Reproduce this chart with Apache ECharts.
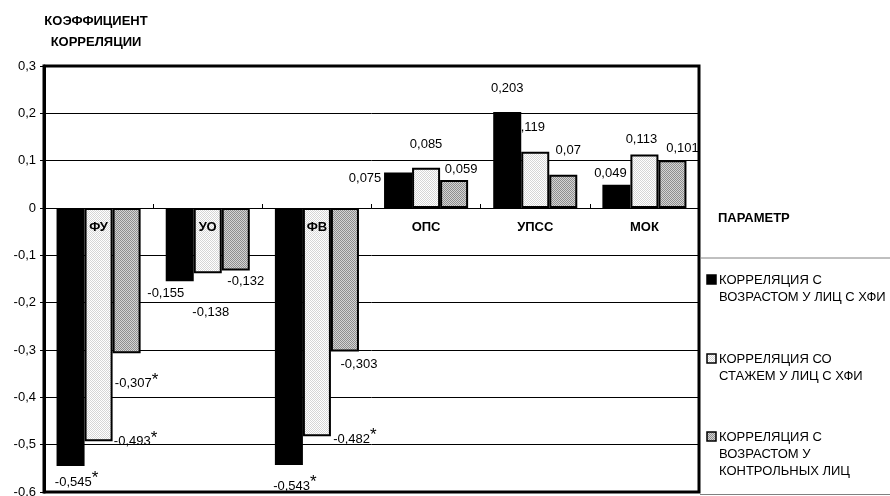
<!DOCTYPE html>
<html>
<head>
<meta charset="utf-8">
<script src="https://cdn.jsdelivr.net/npm/echarts@6/dist/echarts.min.js"></script>
<style>
  html, body { margin: 0; padding: 0; background: #fff; }
  #chart { width: 890px; height: 496px; }
</style>
</head>
<body>
<div id="chart"></div>
<script>
// Parameters on the x axis
const categories = ['ФУ', 'УО', 'ФВ', 'ОПС', 'УПСС', 'МОК'];

// Correlation coefficients
const ageHfi = [-0.545, -0.155, -0.543, 0.075, 0.203, 0.049];
const tenureHfi = [-0.493, -0.138, -0.482, 0.085, 0.119, 0.113];
const ageControl = [-0.307, -0.132, -0.303, 0.059, 0.07, 0.101];

// Statistically significant values (marked with *)
const sigAgeHfi = [true, false, true, false, false, false];
const sigTenureHfi = [true, false, true, false, false, false];
const sigAgeControl = [true, false, false, false, false, false];

const seriesNames = [
  'КОРРЕЛЯЦИЯ С\nВОЗРАСТОМ У ЛИЦ С ХФИ',
  'КОРРЕЛЯЦИЯ СО\nСТАЖЕМ У ЛИЦ С ХФИ',
  'КОРРЕЛЯЦИЯ С\nВОЗРАСТОМ У\nКОНТРОЛЬНЫХ ЛИЦ'
];

// Y axis scale
const yMin = -0.6;
const yMax = 0.3;
const yStep = 0.1;

// Label nudges [dx, dy] for each value label
const offAgeHfi = [[6, -1], [-14, 1], [6, 4], [-33, 17], [0, -12], [-6, 0]];
const offTenureHfi = [[37, -17], [3, 28], [38, -14], [0, -12], [-6, -13], [-3, -4]];
const offAgeControl = [[10, 13], [10, -1], [14, 2], [7, 1], [5, -13], [10, 0]];

const FONT = '"Liberation Sans", Arial, sans-serif';

function makePattern(bg, dot) {
  const c = document.createElement('canvas');
  c.width = 2; c.height = 2;
  const ctx = c.getContext('2d');
  ctx.fillStyle = bg; ctx.fillRect(0, 0, 2, 2);
  ctx.fillStyle = dot;
  ctx.fillRect(0, 0, 1, 1);
  ctx.fillRect(1, 1, 1, 1);
  return { image: c, repeat: 'repeat' };
}

const fills = [
  '#000000',
  makePattern('#ffffff', '#d6d6d6'),
  makePattern('#d4d4d4', '#8e8e8e')
];

function fmt(v) {
  return String(v).replace('.', ',');
}

function buildData(values, sig, offs) {
  return values.map((v, i) => ({
    value: v,
    label: {
      position: v >= 0 ? 'top' : 'bottom',
      offset: offs[i],
      formatter: '{n|' + fmt(v) + '}' + (sig[i] ? '{s|*}' : '')
    }
  }));
}

const richLabel = {
  n: { fontSize: 13, fontFamily: FONT, color: '#000' },
  s: { fontSize: 17, fontFamily: FONT, color: '#000', padding: [0, 0, 8, 0] }
};

function barSeries(name, values, sig, offs, fill) {
  return {
    name: name,
    type: 'bar',
    data: buildData(values, sig, offs),
    barGap: '0%',
    barCategoryGap: '23%',
    itemStyle: { color: fill, borderColor: '#000', borderWidth: 2 },
    label: { show: true, distance: 5, rich: richLabel },
    emphasis: { disabled: true }
  };
}

const chart = echarts.init(document.getElementById('chart'), null, { renderer: 'canvas' });

const legendTop = [275, 354, 432];
const legendGraphics = [];
seriesNames.forEach((name, i) => {
  legendGraphics.push({
    type: 'rect',
    shape: { x: 707, y: legendTop[i], width: 9, height: 9 },
    style: { fill: fills[i], stroke: '#000', lineWidth: 1.5 },
    z: 20
  });
  legendGraphics.push({
    type: 'text',
    x: 719, y: legendTop[i] - 3,
    style: {
      text: name, font: '13px ' + FONT, fill: '#000',
      lineHeight: 17, textVerticalAlign: 'top'
    },
    z: 20
  });
});

const option = {
  animation: false,
  backgroundColor: '#fff',
  grid: {
    left: 44, right: 191, top: 66, bottom: 4,
    containLabel: false, outerBoundsMode: 'none',
    show: true, borderColor: '#000', borderWidth: 3, backgroundColor: 'transparent'
  },
  xAxis: {
    type: 'category',
    data: categories,
    z: 10,
    axisLine: { onZero: true, lineStyle: { color: '#000', width: 1 } },
    axisTick: { show: true, inside: true, length: 4, lineStyle: { color: '#000' } },
    axisLabel: { show: false },
    splitLine: { show: false }
  },
  yAxis: {
    type: 'value',
    min: yMin, max: yMax, interval: yStep,
    axisLine: { show: true, lineStyle: { color: '#000', width: 3 } },
    axisTick: { show: true, length: 4, lineStyle: { color: '#000' } },
    axisLabel: {
      fontSize: 13, fontFamily: FONT, color: '#000', margin: 8,
      formatter: v => Math.abs(v) < 1e-9 ? '0' : v.toFixed(1).replace('.', ',')
    },
    splitLine: { show: true, lineStyle: { color: '#000', width: 1 } }
  },
  series: [
    barSeries(seriesNames[0], ageHfi, sigAgeHfi, offAgeHfi, fills[0]),
    barSeries(seriesNames[1], tenureHfi, sigTenureHfi, offTenureHfi, fills[1]),
    barSeries(seriesNames[2], ageControl, sigAgeControl, offAgeControl, fills[2]),
    {
      // category names sit just under the zero line
      type: 'scatter',
      data: categories.map(c => [c, 0]),
      symbolSize: 0.01,
      itemStyle: { color: '#000', opacity: 1 },
      z: 10,
      silent: true,
      emphasis: { disabled: true },
      label: {
        show: true, position: 'bottom', distance: 13,
        formatter: p => p.value[0],
        fontSize: 13, fontWeight: 'bold', fontFamily: FONT, color: '#000',
        opacity: 1, textBorderWidth: 0
      }
    }
  ],
  graphic: [
    {
      type: 'text', x: 96, y: 11,
      style: {
        text: 'КОЭФФИЦИЕНТ\nКОРРЕЛЯЦИИ', font: 'bold 13px ' + FONT, fill: '#000',
        textAlign: 'center', textVerticalAlign: 'top', lineHeight: 21
      }
    },
    {
      type: 'text', x: 718, y: 212,
      style: { text: 'ПАРАМЕТР', font: 'bold 13px ' + FONT, fill: '#000', textVerticalAlign: 'top' }
    },
    {
      type: 'line', shape: { x1: 700, y1: 258, x2: 890, y2: 258 },
      style: { stroke: '#808080', lineWidth: 1 }
    },
    {
      type: 'line', shape: { x1: 700, y1: 494.5, x2: 890, y2: 494.5 },
      style: { stroke: '#808080', lineWidth: 1 }
    }
  ].concat(legendGraphics)
};

chart.setOption(option);
</script>
</body>
</html>
